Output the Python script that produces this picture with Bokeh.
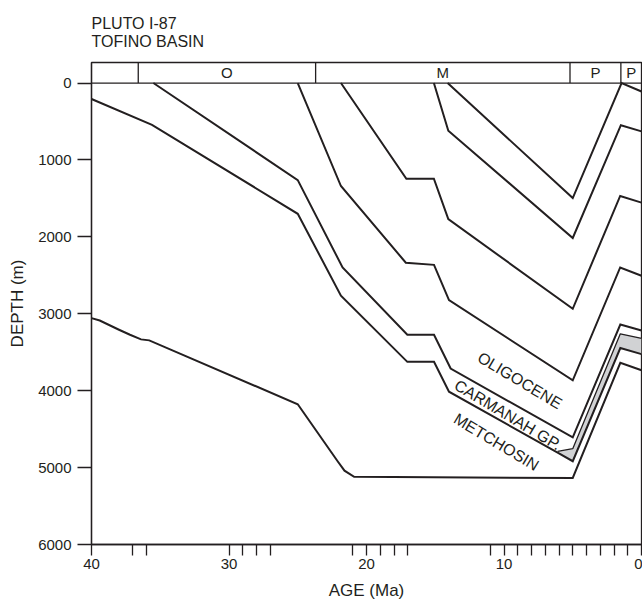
from bokeh.plotting import figure
from bokeh.models import Range1d, FixedTicker
from bokeh.core.properties import value
from bokeh.embed import file_html
from bokeh.resources import INLINE

FONT = "Liberation Sans"
INK = "#231f20"

# ---- data ----
title_lines = ["PLUTO I-87", "TOFINO BASIN"]

epoch_bounds = [36.6, 23.7, 5.2, 1.5]
epoch_labels = ["O", "M", "P", "P"]
epoch_label_ages = [30.15, 14.45, 3.35, 0.75]

x_ticks = [40, 37, 36, 30, 29, 28, 27, 21, 20, 19, 18, 17, 11, 10, 9, 8, 7, 6, 5, 4, 3, 2, 1, 0]
x_labeled = [40, 30, 20, 10, 0]
y_ticks = [0, 1000, 2000, 3000, 4000, 5000, 6000]

h6_age = [14.1, 5.0, 1.45, 0.0]
h6_depth = [0, 1495, 0, 110]
h5_age = [15.1, 14.05, 5.0, 1.5, 0.0]
h5_depth = [0, 620, 2015, 548, 628]
h4_age = [21.86, 17.1, 15.1, 14.05, 5.0, 1.55, 0.0]
h4_depth = [0, 1244, 1244, 1770, 2935, 1468, 1555]
h3_age = [25.0, 21.86, 17.14, 15.09, 14.0, 5.0, 1.55, 0.0]
h3_depth = [0, 1339, 2336, 2364, 2822, 3865, 2398, 2506]
h2_age = [35.5, 25.0, 21.74, 17.03, 15.09, 13.88, 5.0, 1.54, 0.0]
h2_depth = [0, 1262, 2398, 3273, 3273, 3712, 4608, 3140, 3217]
h1_age = [40.0, 35.6, 25.0, 21.86, 17.03, 15.09, 14.0, 6.1, 5.0, 1.54, 0.0]
h1_depth = [207, 543, 1700, 2765, 3625, 3625, 4013, 4806, 4917, 3445, 3525]
grey_top_age = [6.1, 5.0, 1.54, 0.0]
grey_top_depth = [4790, 4754, 3260, 3320]
h0_age = [40.0, 39.4, 38.0, 37.2, 36.4, 35.8, 25.0, 22.1, 21.6, 20.9, 5.0, 1.54, 0.0]
h0_depth = [3057, 3088, 3208, 3273, 3333, 3346, 4177, 4917, 5040, 5120, 5135, 3638, 3734]

unit_labels = ["OLIGOCENE", "CARMANAH GP.", "METCHOSIN"]
unit_label_age = [8.85, 9.72, 10.55]
unit_label_depth = [3867, 4315, 4668]

STRIP_TOP = -267

p = figure(width=642, height=602,
           x_range=Range1d(40, 0), y_range=Range1d(6000, STRIP_TOP),
           output_backend="svg", toolbar_location=None,
           min_border_left=91, min_border_right=1,
           min_border_top=59, min_border_bottom=55,
           title="\n".join(title_lines))

p.title.text_font = FONT
p.title.text_font_size = "16px"
p.title.text_font_style = "normal"
p.title.text_color = INK
p.title.align = "left"
p.title.text_line_height = 1.1
p.title.standoff = 24

p.xgrid.visible = False
p.ygrid.visible = False
p.outline_line_color = INK
p.outline_line_width = 1.3
p.outline_line_alpha = 1
p.background_fill_color = "white"
p.border_fill_color = "white"

# axes
xa = p.xaxis[0]
xa.ticker = FixedTicker(ticks=x_ticks)
xa.major_label_overrides = {t: ("" if t not in x_labeled else str(t)) for t in x_ticks}
xa.axis_label = "AGE (Ma)"
ya = p.yaxis[0]
ya.ticker = FixedTicker(ticks=y_ticks)
ya.axis_label = "DEPTH (m)"
for ax in (xa, ya):
    ax.axis_line_color = INK
    ax.axis_line_width = 1.3
    ax.major_tick_line_color = INK
    ax.major_tick_line_width = 1.3
    ax.minor_tick_line_color = None
    ax.major_tick_in = 0
    ax.major_label_text_font = FONT
    ax.major_label_text_font_size = "15px"
    ax.major_label_text_color = INK
    ax.axis_label_text_font = FONT
    ax.axis_label_text_font_size = "17px"
    ax.axis_label_text_font_style = "normal"
    ax.axis_label_text_color = INK
xa.major_tick_out = 11
xa.major_label_standoff = 3
xa.axis_label_standoff = 9
ya.major_tick_out = 14
ya.major_label_standoff = 6
ya.axis_label_standoff = 8

# epoch strip
p.segment(x0=epoch_bounds, y0=[0] * len(epoch_bounds), x1=epoch_bounds,
          y1=[STRIP_TOP] * len(epoch_bounds), line_color=INK, line_width=1.3)
p.segment(x0=[x_labeled[0]], y0=[0], x1=[x_labeled[-1]], y1=[0], line_color=INK, line_width=1.3)
p.text(x=epoch_label_ages, y=[STRIP_TOP / 2] * len(epoch_label_ages), text=epoch_labels,
       text_align="center", text_baseline="middle", text_font=value(FONT),
       text_font_size="15px", text_color=INK)

# grey wedge
p.patch(x=grey_top_age + h1_age[-1:-5:-1], y=grey_top_depth + h1_depth[-1:-5:-1],
        fill_color="#d1d2d4", line_color=None)

for a, d in [(h6_age, h6_depth), (h5_age, h5_depth), (h4_age, h4_depth), (h3_age, h3_depth),
             (h2_age, h2_depth), (h1_age, h1_depth), (h0_age, h0_depth)]:
    p.line(a, d, line_color=INK, line_width=2, line_join="miter")
p.line(grey_top_age, grey_top_depth, line_color=INK, line_width=1.3)

p.text(x=unit_label_age, y=unit_label_depth, text=unit_labels, angle=-0.54,
       text_align="center", text_baseline="middle", text_font=value(FONT),
       text_font_size="16px", text_color=INK)

open("out.html", "w").write(file_html(p, INLINE))
